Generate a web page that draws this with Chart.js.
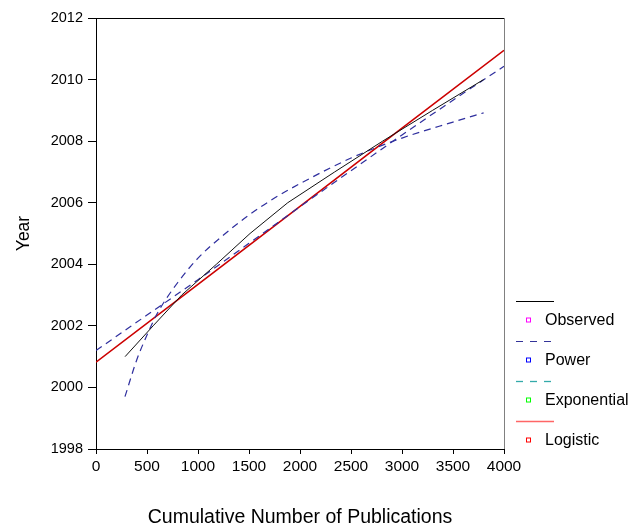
<!DOCTYPE html>
<html>
<head>
<meta charset="utf-8">
<script src="https://cdn.jsdelivr.net/npm/chart.js@4/dist/chart.umd.min.js"></script>
<style>
  html, body { margin: 0; padding: 0; background: #fff; }
  #chart { display: block; }
</style>
</head>
<body>
<canvas id="chart" width="631" height="526"></canvas>
<script>
// observed series: cumulative publications reached by each year
const observedPubs = [285, 560, 840, 1180, 1510, 1880, 2340, 2810, 3300, 3800];
const observedYears = [2001, 2002, 2003, 2004, 2005, 2006, 2007, 2008, 2009, 2010];

// fitted curves
const powerPubs = [284, 400, 500, 600, 800, 1000, 1250, 1500, 1750, 2000, 2500, 3000, 3500, 3800];
const powerYears = [1999.7, 2000.9, 2001.7, 2002.4, 2003.4, 2004.2, 2004.95, 2005.6, 2006.15, 2006.62, 2007.45, 2008.1, 2008.62, 2008.92];

const expPubs = [0, 500, 1000, 1500, 2000, 2500, 3000, 3500, 4000];
const expYears = [2001.2, 2002.35, 2003.5, 2004.68, 2005.87, 2007.04, 2008.2, 2009.33, 2010.43];

const logisticPubs = [0, 1000, 2000, 3000, 4000];
const logisticYears = [2000.82, 2003.35, 2005.88, 2008.42, 2010.95];

const seriesNames = ["Observed", "Power", "Exponential", "Logistic"];

const xTicks = [0, 500, 1000, 1500, 2000, 2500, 3000, 3500, 4000];
const yTicks = [1998, 2000, 2002, 2004, 2006, 2008, 2010, 2012];

const FONT = "'Liberation Sans', Arial, sans-serif";

function toPoints(xs, ys) {
  return xs.map((x, i) => ({ x: x, y: ys[i] }));
}

// legend look: line sample on top, small square + name below
const legendLook = [
  { line: "#000000", dash: [], width: 1, box: "#ff00ff" },
  { line: "#333399", dash: [7, 7], width: 1, box: "#0000ff" },
  { line: "#33aaaa", dash: [7, 7], width: 1.3, box: "#00ff00" },
  { line: "#ff6666", dash: [], width: 1.5, box: "#ff0000" },
];

const sideLegend = {
  id: "sideLegend",
  afterDraw(chart) {
    const ctx = chart.ctx;
    ctx.save();
    seriesNames.forEach((name, i) => {
      const look = legendLook[i];
      const ly = 301.5 + 40 * i;
      ctx.strokeStyle = look.line;
      ctx.lineWidth = look.width;
      ctx.setLineDash(look.dash);
      ctx.beginPath();
      ctx.moveTo(516, ly);
      ctx.lineTo(554, ly);
      ctx.stroke();
      ctx.setLineDash([]);
      ctx.strokeStyle = look.box;
      ctx.lineWidth = 1;
      ctx.strokeRect(526.5, ly + 16.5, 4, 4);
      ctx.fillStyle = "#000";
      ctx.font = "16px " + FONT;
      ctx.textBaseline = "middle";
      ctx.textAlign = "left";
      ctx.fillText(name, 545, ly + 19.5);
    });
    ctx.restore();
  },
};

const frame = {
  id: "frame",
  afterDatasetsDraw(chart) {
    const { ctx, chartArea: a } = chart;
    ctx.save();
    ctx.lineWidth = 1;
    ctx.strokeStyle = "#000";
    ctx.beginPath();
    ctx.moveTo(a.left, a.top + 0.5);
    ctx.lineTo(a.right + 1, a.top + 0.5);
    ctx.stroke();
    ctx.strokeStyle = "#808080";
    ctx.beginPath();
    ctx.moveTo(a.right + 0.5, a.top);
    ctx.lineTo(a.right + 0.5, a.bottom);
    ctx.stroke();
    ctx.restore();
  },
};

const ctx = document.getElementById("chart").getContext("2d");
const chart = new Chart(ctx, {
  type: "scatter",
  data: {
    datasets: [
      {
        label: seriesNames[0],
        data: toPoints(observedPubs, observedYears),
        showLine: true,
        borderColor: "#111111",
        borderWidth: 1,
        pointRadius: 0,
      },
      {
        label: seriesNames[1],
        data: toPoints(powerPubs, powerYears),
        showLine: true,
        borderColor: "#2e2e9e",
        borderWidth: 1.2,
        borderDash: [7, 5],
        cubicInterpolationMode: "monotone",
        pointRadius: 0,
      },
      {
        label: seriesNames[2],
        data: toPoints(expPubs, expYears),
        showLine: true,
        borderColor: "#2e2e9e",
        borderWidth: 1.2,
        borderDash: [7, 5],
        cubicInterpolationMode: "monotone",
        pointRadius: 0,
      },
      {
        label: seriesNames[3],
        data: toPoints(logisticPubs, logisticYears),
        showLine: true,
        borderColor: "#cc0000",
        borderWidth: 1.6,
        pointRadius: 0,
      },
    ],
  },
  options: {
    responsive: false,
    animation: false,
    layout: { padding: { top: 18, right: 127, left: 0, bottom: 0 } },
    plugins: {
      legend: { display: false },
      tooltip: { enabled: false },
    },
    scales: {
      x: {
        type: "linear",
        min: 0,
        max: 4000,
        afterBuildTicks: (s) => { s.ticks = xTicks.map((v) => ({ value: v })); },
        afterFit: (s) => { s.height = 77; },
        ticks: {
          color: "#000",
          font: { family: FONT, size: 15.5 },
          padding: 3,
          callback: (v) => String(v),
        },
        grid: { drawOnChartArea: false, tickLength: 5, tickColor: "#000" },
        border: { color: "#000", width: 1 },
        title: {
          display: true,
          text: "Cumulative Number of Publications",
          color: "#000",
          font: { family: FONT, size: 19.5 },
          padding: { top: 0, bottom: -3 },
        },
      },
      y: {
        type: "linear",
        min: 1998,
        max: 2012,
        afterBuildTicks: (s) => { s.ticks = yTicks.map((v) => ({ value: v })); },
        afterFit: (s) => { s.width = 96; },
        ticks: {
          color: "#000",
          font: { family: FONT, size: 14.5 },
          padding: 5,
          callback: (v) => String(v),
        },
        grid: { drawOnChartArea: false, tickLength: 8, tickColor: "#000" },
        border: { color: "#000", width: 1 },
        title: {
          display: true,
          text: "Year",
          color: "#000",
          font: { family: FONT, size: 17.5 },
          padding: { top: 14, bottom: 0 },
        },
      },
    },
  },
  plugins: [frame, sideLegend],
});
</script>
</body>
</html>
